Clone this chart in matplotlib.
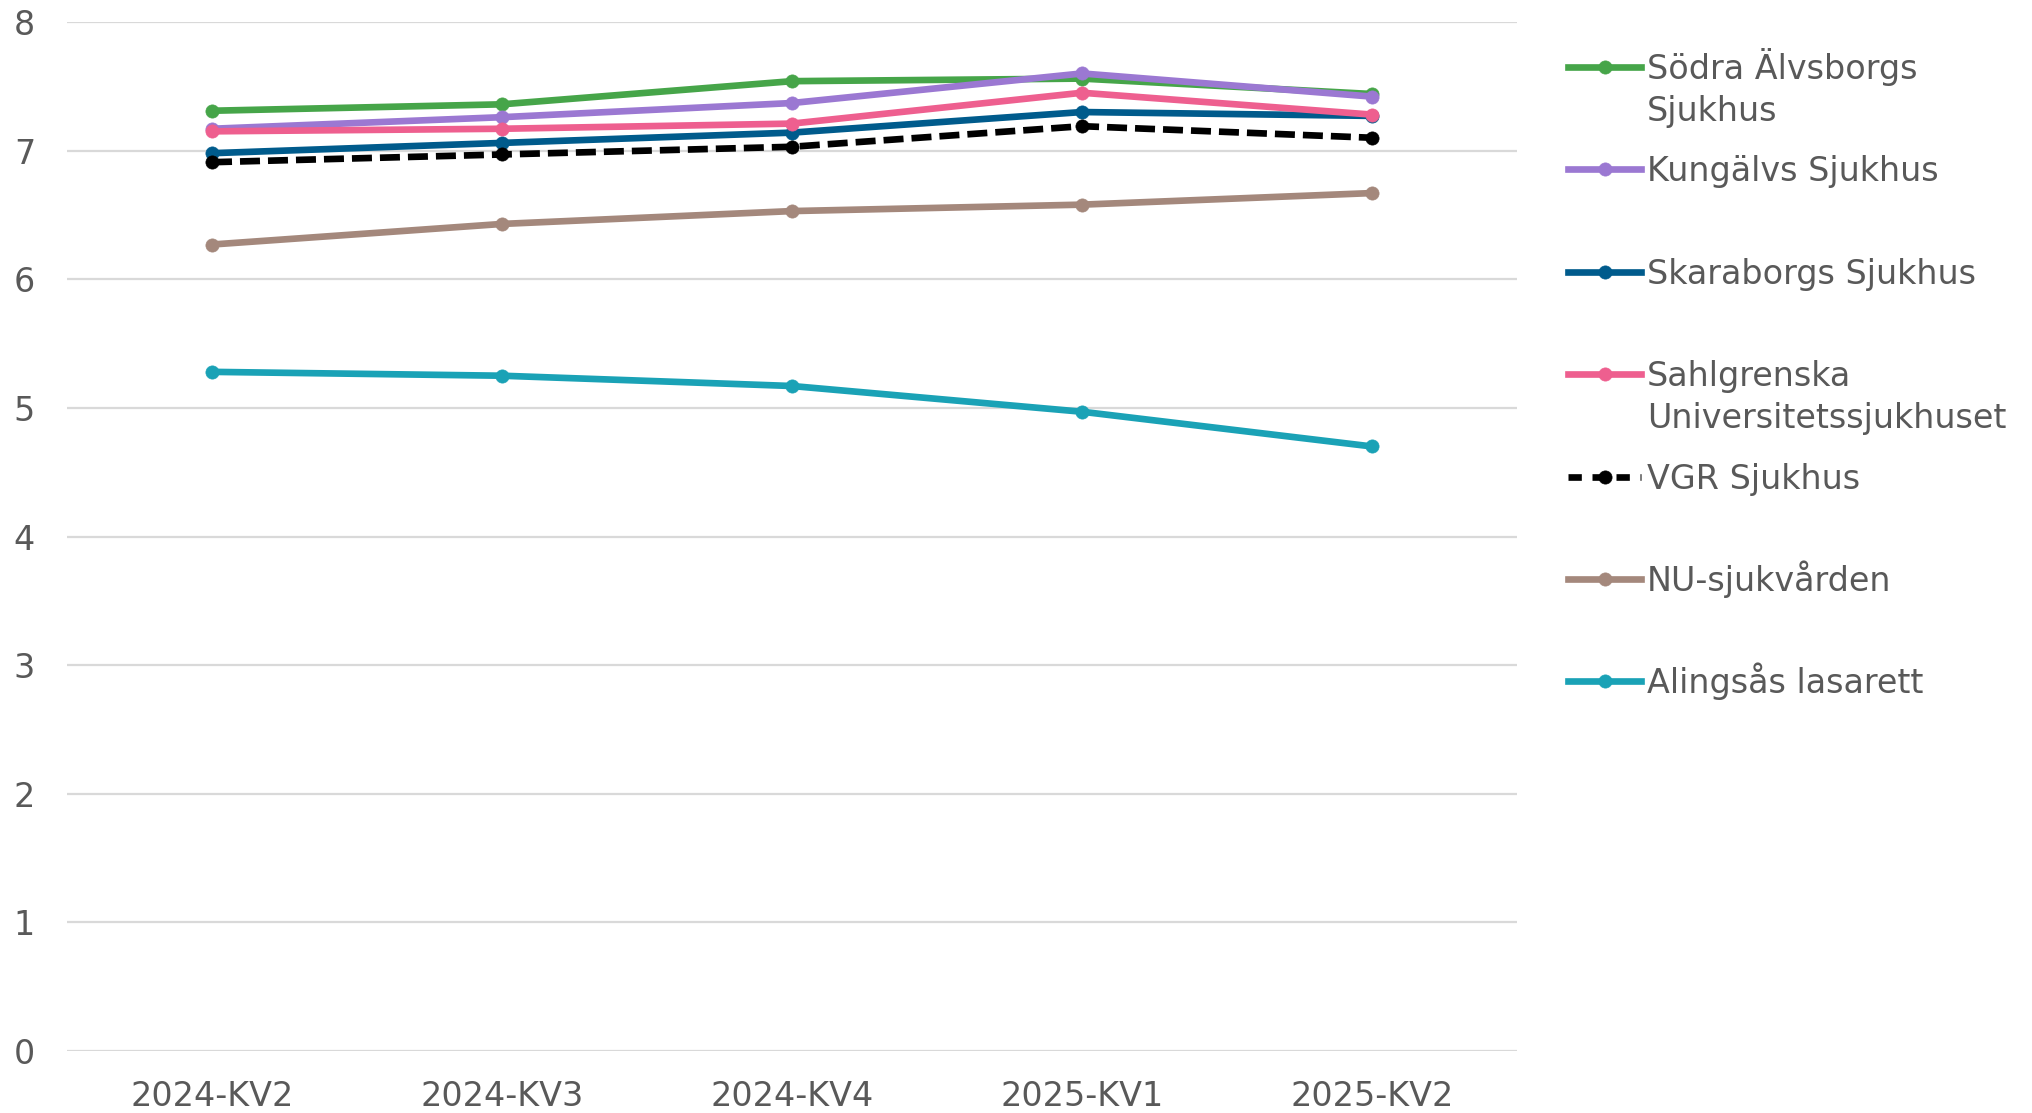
import matplotlib
matplotlib.use("Agg")
import matplotlib.pyplot as plt
from matplotlib.lines import Line2D

categories = ["2024-KV2", "2024-KV3", "2024-KV4", "2025-KV1", "2025-KV2"]

sodra = [7.31, 7.36, 7.54, 7.56, 7.44]
kungalv = [7.17, 7.26, 7.37, 7.60, 7.42]
skaraborg = [6.98, 7.06, 7.14, 7.30, 7.27]
sahlgrenska = [7.15, 7.17, 7.21, 7.45, 7.28]
vgr = [6.91, 6.97, 7.03, 7.19, 7.10]
nu = [6.27, 6.43, 6.53, 6.58, 6.67]
alingsas = [5.28, 5.25, 5.17, 4.97, 4.70]

series_labels = ["Södra Älvsborgs\nSjukhus", "Kungälvs Sjukhus", "Skaraborgs Sjukhus",
                 "Sahlgrenska\nUniversitetssjukhuset", "VGR Sjukhus", "NU-sjukvården",
                 "Alingsås lasarett"]
series_values = [sodra, kungalv, skaraborg, sahlgrenska, vgr, nu, alingsas]
colors = ["#46A549", "#9B78D2", "#005B8C", "#EE5F8F", "#000000", "#A4887C", "#1AA2B6"]
styles = ["-", "-", "-", "-", "--", "-", "-"]
yticks = [0, 1, 2, 3, 4, 5, 6, 7, 8]

LW = 4.8
MS = 9.5

W, H = 2032, 1113
fig = plt.figure(figsize=(W / 100, H / 100), dpi=100)
ax = fig.add_axes([67 / W, 1 - 1051 / H, (1517 - 67) / W, (1051 - 22) / H])

x = list(range(len(categories)))
order = [5, 6, 2, 3, 1, 0, 4]
for i in order:
    kw = {}
    if styles[i] == "--":
        kw["dashes"] = (3.0, 1.2)
    ax.plot(x, series_values[i], color=colors[i], linestyle=styles[i], lw=LW,
            marker="o", markersize=MS, markeredgewidth=0.5,
            zorder=3 + i * 0.01, solid_capstyle="round", **kw)

ax.set_xlim(-0.5, 4.5)
ax.set_ylim(0, 8)
ax.set_yticks(yticks)
ax.set_xticks(x)
ax.set_xticklabels(categories)
ax.grid(axis="y", color="#D9D9D9", lw=1.6, zorder=0)
ax.set_axisbelow(True)
for s in ax.spines.values():
    s.set_visible(False)
ax.tick_params(axis="both", length=0, colors="#595959", labelsize=24)
ax.tick_params(axis="y", pad=23)
ax.tick_params(axis="x", pad=21)

# legend, drawn in figure pixel coordinates
y0 = 67
step = 102.4
for k, (lab, c, st) in enumerate(zip(series_labels, colors, styles)):
    yy = 1 - (y0 + k * step) / H
    kw = {}
    if st == "--":
        kw["dashes"] = (2.0, 1.6)
    ln = Line2D([1568 / W, 1641 / W], [yy, yy], transform=fig.transFigure, color=c,
                lw=LW, linestyle=st, **kw)
    fig.add_artist(ln)
    mk = Line2D([1605 / W], [yy], transform=fig.transFigure, color=c, marker="o",
                markersize=MS, markeredgewidth=0.5, lw=0)
    fig.add_artist(mk)
    for j, part in enumerate(lab.split("\n")):
        fig.text(1647 / W, yy - (12 + j * 41.5) / H, part, fontsize=24, color="#595959",
                 va="baseline", ha="left")

fig.savefig("out.png", dpi=100, facecolor="white")
